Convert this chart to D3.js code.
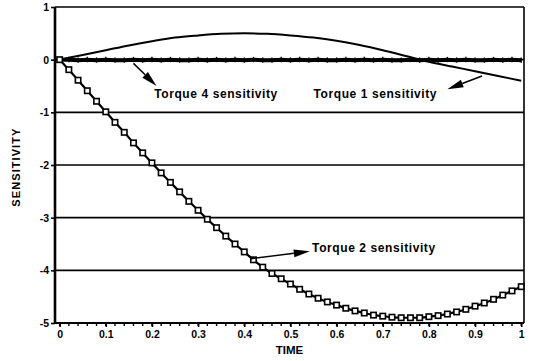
<!DOCTYPE html>
<meta charset="utf-8">
<head>
  <script src="https://d3js.org/d3.v7.min.js"></script>
  <style>
    body { margin: 0; background: #fff; }
    text { font-family: "Liberation Sans", Arial, sans-serif; font-weight: bold; fill: #000; }
  </style>
</head>
<body>
<svg id="chart"></svg>
<script>
  // ---- data ----
  var xTicks = [0, 0.1, 0.2, 0.3, 0.4, 0.5, 0.6, 0.7, 0.8, 0.9, 1]
  var xTickLabels = ["0", "0.1", "0.2", "0.3", "0.4", "0.5", "0.6", "0.7", "0.8", "0.9", "1"]
  var yTicks = [1, 0, -1, -2, -3, -4, -5]
  var yTickLabels = ["1", "0", "-1", "-2", "-3", "-4", "-5"]
  var gridValues = [0, -1, -2, -3, -4]

  // torque 2: sampled every 0.02 (one marker each)
  var torque2Time = [0, 0.02, 0.04, 0.06, 0.08, 0.1, 0.12, 0.14, 0.16, 0.18, 0.2,
    0.22, 0.24, 0.26, 0.28, 0.3, 0.32, 0.34, 0.36, 0.38, 0.4,
    0.42, 0.44, 0.46, 0.48, 0.5, 0.52, 0.54, 0.56, 0.58, 0.6,
    0.62, 0.64, 0.66, 0.68, 0.7, 0.72, 0.74, 0.76, 0.78, 0.8,
    0.82, 0.84, 0.86, 0.88, 0.9, 0.92, 0.94, 0.96, 0.98, 1]
  var torque2 = [0, -0.19, -0.39, -0.59, -0.79, -0.99, -1.19, -1.38, -1.58, -1.77, -1.96,
    -2.15, -2.33, -2.51, -2.69, -2.86, -3.03, -3.19, -3.35, -3.5, -3.65,
    -3.8, -3.94, -4.06, -4.16, -4.26, -4.36, -4.45, -4.53, -4.6, -4.66,
    -4.72, -4.77, -4.81, -4.85, -4.87, -4.89, -4.9, -4.9, -4.9, -4.88,
    -4.86, -4.83, -4.79, -4.74, -4.68, -4.62, -4.55, -4.47, -4.39, -4.31]

  // torque 1: plain line
  var torque1Time = [0, 0.05, 0.1, 0.15, 0.2, 0.25, 0.3, 0.35, 0.4, 0.45, 0.5,
    0.55, 0.6, 0.65, 0.7, 0.75, 0.8, 0.85, 0.9, 0.95, 1]
  var torque1 = [0, 0.09, 0.18, 0.27, 0.35, 0.42, 0.46, 0.49, 0.5, 0.49, 0.46,
    0.42, 0.36, 0.28, 0.18, 0.07, -0.04, -0.13, -0.22, -0.31, -0.4]

  // torque 4: thick line hugging zero
  var torque4Time = torque2Time
  var torque4 = [0, 0, -0.01, 0, -0.01, 0, -0.01, -0.01, 0, -0.01, 0,
    -0.01, 0, -0.01, -0.01, 0, -0.01, 0, -0.01, 0, -0.01,
    0, -0.01, -0.01, 0, -0.01, 0, -0.01, 0, -0.01, -0.01,
    0, -0.01, 0, -0.01, 0, -0.01, -0.01, 0, -0.01, 0,
    -0.01, 0, -0.01, 0, -0.01, -0.01, 0, -0.01, 0, -0.01]

  // annotations: label, text anchor (t,v), arrow from (t,v), arrow tip (t,v)
  var labels = ["Torque 4 sensitivity", "Torque 1 sensitivity", "Torque 2 sensitivity"]
  var labelPos = [[0.205, -0.72], [0.55, -0.72], [0.547, -3.66]]
  var arrowFrom = [[0.16, -0.07], [0.915, -0.31], [0.414, -3.78]]
  var arrowTo = [[0.21, -0.5], [0.84, -0.56], [0.542, -3.64]]

  // ---- setup ----
  var W = 533, H = 361
  var svg = d3.select("#chart").attr("width", W).attr("height", H)

  var x = d3.scaleLinear().domain([-0.01, 1.006]).range([55, 524])
  var y = d3.scaleLinear().domain([-5, 1]).range([323, 7])

  // gridlines
  svg.selectAll(".grid").data(gridValues).enter().append("line")
    .attr("x1", x(-0.01)).attr("x2", x(1.006))
    .attr("y1", function(d){ return y(d) }).attr("y2", function(d){ return y(d) })
    .attr("stroke", "#000").attr("stroke-width", 1.6)

  // frame top & right
  svg.append("line").attr("x1", x(-0.01)).attr("x2", x(1.006)).attr("y1", y(1)).attr("y2", y(1))
    .attr("stroke", "#000").attr("stroke-width", 1.6)
  svg.append("line").attr("x1", x(1.006)).attr("x2", x(1.006)).attr("y1", y(1)).attr("y2", y(-5))
    .attr("stroke", "#000").attr("stroke-width", 1.6)

  // bottom axis
  var minor = d3.range(0, 51).map(function(i){ return i / 50 })
  var xAxis = d3.axisBottom(x).tickValues(xTicks)
    .tickFormat(function(d, i){ return xTickLabels[i] }).tickSize(4).tickPadding(4)
  var gx = svg.append("g").attr("transform", "translate(0," + y(-5) + ")").call(xAxis)
  gx.select(".domain").attr("stroke-width", 2.2).attr("d", "M" + x(-0.01) + ",0H" + x(1.006))
  gx.selectAll(".tick line").attr("stroke-width", 1.6)
  gx.selectAll("text").style("font-size", "10.5px").attr("font-family", null)
  gx.selectAll(".minor").data(minor).enter().append("line")
    .attr("x1", function(d){ return x(d) }).attr("x2", function(d){ return x(d) })
    .attr("y1", 0).attr("y2", 3).attr("stroke", "#000").attr("stroke-width", 1.4)

  // left axis
  var yAxis = d3.axisLeft(y).tickValues(yTicks).tickSize(4).tickPadding(2)
    .tickFormat(function(d, i){ return yTickLabels[i] })
  var gy = svg.append("g").attr("transform", "translate(" + x(-0.01) + ",0)").call(yAxis)
  gy.select(".domain").attr("stroke-width", 2.6).attr("d", "M0," + y(1) + "V" + y(-5))
  gy.selectAll(".tick line").attr("stroke-width", 1.6)
  gy.selectAll("text").style("font-size", "10.5px").attr("font-family", null)

  // axis titles
  svg.append("text").attr("x", (x(-0.01) + x(1.006)) / 2).attr("y", 354)
    .attr("text-anchor", "middle").style("font-size", "11.5px").text("TIME")
  svg.append("text").attr("transform", "translate(20," + y(-2.05) + ") rotate(-90)")
    .attr("text-anchor", "middle").style("font-size", "11px")
    .attr("textLength", 78).text("SENSITIVITY")

  // curves
  var line = d3.line().x(function(d){ return x(d[0]) }).y(function(d){ return y(d[1]) })
  var t1 = d3.zip(torque1Time, torque1)
  var t2 = d3.zip(torque2Time, torque2)
  var t4 = d3.zip(torque4Time, torque4)

  svg.append("path").datum(t1).attr("fill", "none").attr("stroke", "#000")
    .attr("stroke-width", 2).attr("d", line.curve(d3.curveMonotoneX))
  svg.append("path").datum(t4).attr("fill", "none").attr("stroke", "#000")
    .attr("stroke-width", 4).attr("d", line.curve(d3.curveLinear))
  svg.selectAll(".m4").data(t4).enter().append("line")
    .attr("x1", function(d){ return x(d[0]) }).attr("x2", function(d){ return x(d[0]) })
    .attr("y1", function(d){ return y(d[1]) - 2.8 }).attr("y2", function(d){ return y(d[1]) + 2.5 })
    .attr("stroke", "#000").attr("stroke-width", 1.3)

  svg.append("path").datum(t2).attr("fill", "none").attr("stroke", "#000")
    .attr("stroke-width", 2.2).attr("d", line.curve(d3.curveMonotoneX))
  svg.selectAll(".m2").data(t2).enter().append("rect")
    .attr("x", function(d){ return x(d[0]) - 2.7 }).attr("y", function(d){ return y(d[1]) - 2.7 })
    .attr("width", 5.4).attr("height", 5.4)
    .attr("fill", "#fff").attr("stroke", "#000").attr("stroke-width", 1.6)

  // annotations
  labels.forEach(function(s, i){
    var x0 = x(arrowFrom[i][0]), y0 = y(arrowFrom[i][1])
    var x1 = x(arrowTo[i][0]), y1 = y(arrowTo[i][1])
    var a = Math.atan2(y1 - y0, x1 - x0)
    var len = 16, wid = 4
    var bx = x1 - len * Math.cos(a), by = y1 - len * Math.sin(a)
    svg.append("line").attr("x1", x0).attr("y1", y0).attr("x2", bx).attr("y2", by)
      .attr("stroke", "#000").attr("stroke-width", 1.5)
    svg.append("path")
      .attr("d", "M" + x1 + "," + y1 +
        "L" + (bx - wid * Math.sin(a)) + "," + (by + wid * Math.cos(a)) +
        "L" + (bx + wid * Math.sin(a)) + "," + (by - wid * Math.cos(a)) + "Z")
      .attr("fill", "#000")
    svg.append("text").attr("x", x(labelPos[i][0])).attr("y", y(labelPos[i][1]))
      .style("font-size", "12px").attr("textLength", 123).text(s)
  })
</script>
</body>
